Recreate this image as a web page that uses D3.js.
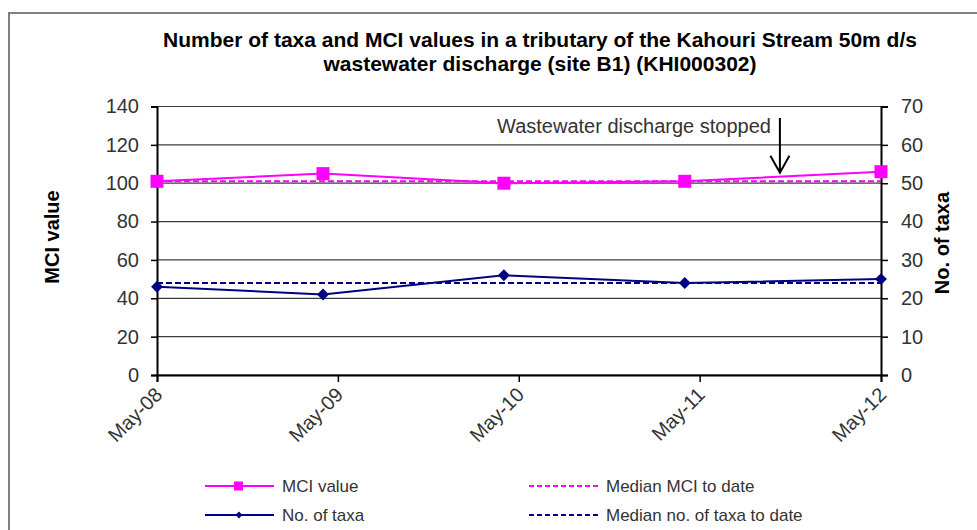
<!DOCTYPE html>
<html>
<head>
<meta charset="utf-8">
<script src="https://cdn.jsdelivr.net/npm/d3@7/dist/d3.min.js"></script>
<style>
  body { margin: 0; background: #fff; }
  svg { display: block; font-family: "Liberation Sans", Arial, sans-serif; }
</style>
</head>
<body>
<div id="chart"></div>
<script>
//
// data
//
var sampleDates = ['2008-05-01', '2009-04-01', '2010-04-01', '2011-04-01', '2012-05-01']
var mciValues = [101, 105, 100, 101, 106]
var taxaValues = [23, 21, 26, 24, 25]
var medianMci = [101, 101, 101, 101, 101]
var medianTaxa = [24, 24, 24, 24, 24]
var tickDates = ['2008-05-01', '2009-05-01', '2010-05-01', '2011-05-01', '2012-05-01']
var mciTicks = [0, 20, 40, 60, 80, 100, 120, 140]
var taxaTicks = [0, 10, 20, 30, 40, 50, 60, 70]
var titleLines = ['Number of taxa and MCI values in a tributary of the Kahouri Stream 50m d/s',
                  'wastewater discharge (site B1) (KHI000302)']
var noteText = 'Wastewater discharge stopped'
var noteDate = '2011-10-10'
var legendLabels = ['MCI value', 'No. of taxa', 'Median MCI to date', 'Median no. of taxa to date']
//
// setup
//
var W = 977, H = 530
var pink = '#ff00ff', navy = '#000080', axisText = '#333'
var parse = d3.utcParse('%Y-%m-%d')

var svg = d3.select('#chart')
  .append('svg')
  .attr('width', W)
  .attr('height', H)

// outer frame
svg.append('rect')
  .attr('x', 9).attr('y', 13)
  .attr('width', W).attr('height', H)
  .attr('fill', '#fff')
  .attr('stroke', '#808080')
  .attr('stroke-width', 2)

// scales
var x = d3.scaleUtc()
  .domain([parse(tickDates[0]), parse(tickDates[tickDates.length - 1])])
  .range([157, 881])
var yMci = d3.scaleLinear().domain([0, 140]).range([375, 106.5])
var yTaxa = d3.scaleLinear().domain([0, 70]).range([375, 106.5])

//
// title
//
svg.selectAll('.title')
  .data(titleLines)
  .enter().append('text')
  .attr('x', 540)
  .attr('y', function(d, i) { return 47 + i * 23.5 })
  .attr('text-anchor', 'middle')
  .style('font-size', '21px')
  .style('font-weight', 'bold')
  .text(function(d) { return d })

//
// gridlines
//
svg.append('g')
  .selectAll('line')
  .data(mciTicks)
  .enter().append('line')
  .attr('x1', x.range()[0]).attr('x2', x.range()[1])
  .attr('y1', function(d) { return yMci(d) })
  .attr('y2', function(d) { return yMci(d) })
  .attr('stroke', '#3c3c3c')
  .attr('stroke-width', 1.2)

//
// axes
//
var leftAxis = svg.append('g')
  .attr('transform', 'translate(' + x.range()[0] + ',0)')
  .call(d3.axisLeft(yMci).tickValues(mciTicks).tickSize(6).tickPadding(12))
var rightAxis = svg.append('g')
  .attr('transform', 'translate(' + x.range()[1] + ',0)')
  .call(d3.axisRight(yTaxa).tickValues(taxaTicks).tickSize(7).tickPadding(13))
var bottomAxis = svg.append('g')
  .attr('transform', 'translate(0,' + yMci(0) + ')')
  .call(d3.axisBottom(x).tickValues(tickDates.map(parse)).tickSize(7).tickFormat(d3.utcFormat('%b-%y')))

;[leftAxis, rightAxis, bottomAxis].forEach(function(g) {
  g.select('.domain').attr('stroke', '#000').attr('stroke-width', 2)
  g.selectAll('.tick line').attr('stroke', '#000').attr('stroke-width', 1.5)
  g.selectAll('.tick text')
    .attr('fill', axisText)
    .style('font-family', '"Liberation Sans", Arial, sans-serif')
    .style('font-size', '20px')
})
bottomAxis.selectAll('.tick text')
  .attr('text-anchor', 'end')
  .attr('x', 0).attr('y', 0).attr('dy', 0)
  .attr('transform', 'translate(6,21) rotate(-45)')

// axis titles
svg.append('text')
  .attr('transform', 'translate(59,237) rotate(-90)')
  .attr('text-anchor', 'middle')
  .style('font-size', '20px')
  .style('font-weight', 'bold')
  .text('MCI value')
svg.append('text')
  .attr('transform', 'translate(949,243) rotate(-90)')
  .attr('text-anchor', 'middle')
  .style('font-size', '20px')
  .style('font-weight', 'bold')
  .text('No. of taxa')

//
// series
//
var lineMci = d3.line()
  .x(function(d, i) { return x(parse(sampleDates[i])) })
  .y(function(d) { return yMci(d) })
var lineTaxa = d3.line()
  .x(function(d, i) { return x(parse(sampleDates[i])) })
  .y(function(d) { return yTaxa(d) })

svg.append('path')
  .attr('d', lineMci(medianMci))
  .attr('fill', 'none')
  .attr('stroke', pink)
  .attr('stroke-width', 2)
  .attr('stroke-dasharray', '6,3')
svg.append('path')
  .attr('d', lineTaxa(medianTaxa))
  .attr('fill', 'none')
  .attr('stroke', navy)
  .attr('stroke-width', 2)
  .attr('stroke-dasharray', '6,3')

svg.append('path')
  .attr('d', lineMci(mciValues))
  .attr('fill', 'none')
  .attr('stroke', pink)
  .attr('stroke-width', 2)
svg.append('path')
  .attr('d', lineTaxa(taxaValues))
  .attr('fill', 'none')
  .attr('stroke', navy)
  .attr('stroke-width', 2)

svg.append('g')
  .selectAll('rect')
  .data(mciValues)
  .enter().append('rect')
  .attr('x', function(d, i) { return x(parse(sampleDates[i])) - 6.5 })
  .attr('y', function(d) { return yMci(d) - 6.5 })
  .attr('width', 13).attr('height', 13)
  .attr('fill', pink)

var diamond = d3.symbol().type(d3.symbolDiamond2).size(90)
svg.append('g')
  .selectAll('path')
  .data(taxaValues)
  .enter().append('path')
  .attr('d', diamond)
  .attr('transform', function(d, i) {
    return 'translate(' + x(parse(sampleDates[i])) + ',' + yTaxa(d) + ')'
  })
  .attr('fill', navy)

//
// annotation
//
var ax = x(parse(noteDate))
svg.append('text')
  .attr('x', ax - 9)
  .attr('y', yMci(126))
  .attr('text-anchor', 'end')
  .attr('fill', axisText)
  .style('font-size', '20px')
  .text(noteText)
svg.append('path')
  .attr('d', 'M' + ax + ',' + yMci(134) + 'V' + yMci(105.5)
    + 'M' + (ax - 9.5) + ',' + (yMci(105.5) - 17) + 'L' + ax + ',' + yMci(105.5)
    + 'L' + (ax + 9.5) + ',' + (yMci(105.5) - 17))
  .attr('fill', 'none')
  .attr('stroke', '#000')
  .attr('stroke-width', 2)

//
// legend
//
var legendRows = [
  {label: legendLabels[0], color: pink, dash: null, mark: 'square', lx: 205, ly: 486},
  {label: legendLabels[1], color: navy, dash: null, mark: 'diamond', lx: 205, ly: 515},
  {label: legendLabels[2], color: pink, dash: '5,3', mark: null, lx: 529, ly: 486},
  {label: legendLabels[3], color: navy, dash: '5,3', mark: null, lx: 529, ly: 515}
]
var legend = svg.append('g')
  .selectAll('g')
  .data(legendRows)
  .enter().append('g')
  .attr('transform', function(d) { return 'translate(' + d.lx + ',' + d.ly + ')' })
legend.append('line')
  .attr('x1', 0).attr('x2', 69)
  .attr('stroke', function(d) { return d.color })
  .attr('stroke-width', 2)
  .attr('stroke-dasharray', function(d) { return d.dash })
legend.filter(function(d) { return d.mark === 'square' })
  .append('rect')
  .attr('x', 29).attr('y', -4.5)
  .attr('width', 9).attr('height', 9)
  .attr('fill', function(d) { return d.color })
legend.filter(function(d) { return d.mark === 'diamond' })
  .append('path')
  .attr('d', d3.symbol().type(d3.symbolDiamond2).size(30))
  .attr('transform', 'translate(34,0)')
  .attr('fill', function(d) { return d.color })
legend.append('text')
  .attr('x', 77)
  .attr('dy', '0.36em')
  .attr('fill', axisText)
  .style('font-size', '17px')
  .text(function(d) { return d.label })
</script>
</body>
</html>
